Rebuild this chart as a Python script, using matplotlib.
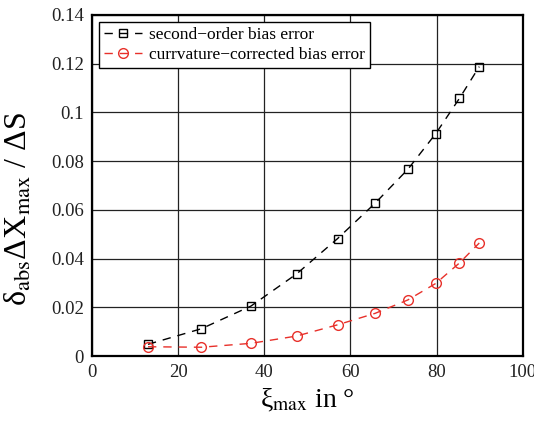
import matplotlib
matplotlib.use("Agg")
import matplotlib.pyplot as plt

plt.rcParams['font.family'] = ['Liberation Serif', 'DejaVu Serif']
plt.rcParams['mathtext.fontset'] = 'stix'

xi = [13.0, 25.4, 36.9, 47.5, 57.0, 65.7, 73.3, 79.8, 85.3, 89.9]
second_order = [0.0048, 0.0112, 0.0205, 0.0337, 0.0482, 0.0627, 0.0766, 0.0913, 0.1058, 0.1188]
curv_corrected = [0.0038, 0.0036, 0.0052, 0.0082, 0.0128, 0.0175, 0.0230, 0.0298, 0.0382, 0.0464]

fig = plt.figure(figsize=(5.34, 4.26), dpi=100)
ax = fig.add_axes([0.1723, 0.1643, 0.8067, 0.8005])

ax.plot(xi, second_order, linestyle=(0, (6, 5)), color='black', lw=1.0,
        marker='s', markersize=6, markerfacecolor='none', markeredgecolor='black',
        markeredgewidth=1.0, label='second\u2212order bias error')
ax.plot(xi, curv_corrected, linestyle=(0, (6, 5)), color='#e8302a', lw=1.0,
        marker='o', markersize=7, markerfacecolor='none', markeredgecolor='#e8302a',
        markeredgewidth=1.0, label='currvature\u2212corrected bias error')

ax.set_xlim(0, 100)
ax.set_ylim(0, 0.14)
ax.set_xticks([0, 20, 40, 60, 80, 100])
ax.set_yticks([0, 0.02, 0.04, 0.06, 0.08, 0.1, 0.12, 0.14])
ax.set_yticklabels(['0', '0.02', '0.04', '0.06', '0.08', '0.1', '0.12', '0.14'])
ax.grid(True, color='#222222', lw=0.9)
ax.tick_params(length=0, labelsize=13.5, pad=6, colors='#222222')
for s in ax.spines.values():
    s.set_linewidth(1.6)

ax.set_xlabel('\u03be$_{\\mathrm{max}}$ in \u00b0', fontsize=20, labelpad=4)
ax.set_ylabel('\u03b4$_{\\mathrm{abs}}$\u0394X$_{\\mathrm{max}}$ / \u0394S', fontsize=23)
ax.yaxis.set_label_coords(-0.135, 0.43)

leg = ax.legend(loc='upper left', fontsize=12.5, frameon=True, fancybox=False,
                edgecolor='black', framealpha=1, handlelength=2.2, borderpad=0.3,
                labelspacing=0.2, handletextpad=0.4, borderaxespad=0.4)
leg.get_frame().set_linewidth(1.0)

fig.savefig('out.png', dpi=100)
